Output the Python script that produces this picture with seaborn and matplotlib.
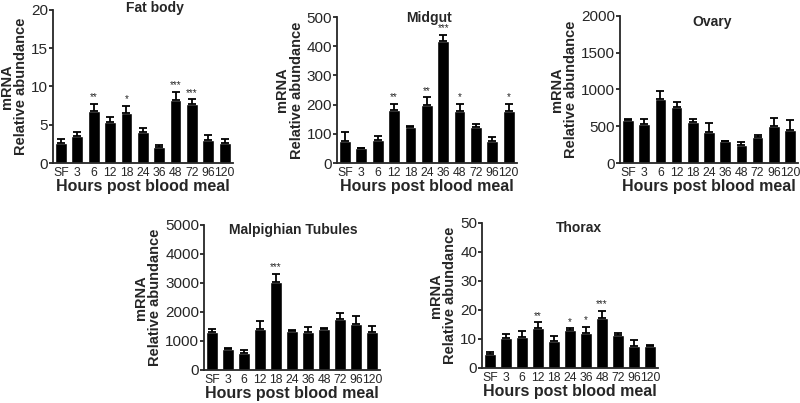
import numpy as np
import pandas as pd
import matplotlib.pyplot as plt
import seaborn as sns

hours = ["SF", "3", "6", "12", "18", "24", "36", "48", "72", "96", "120"]

fat_mean = [2.6, 3.5, 6.8, 5.4, 6.5, 4.0, 2.1, 8.2, 7.7, 3.0, 2.6]
fat_err = [0.6, 0.5, 0.9, 0.6, 0.9, 0.6, 0.2, 1.1, 0.6, 0.7, 0.5]
fat_sig = ["", "", "**", "", "*", "", "", "***", "***", "", ""]

mid_mean = [75, 50, 80, 183, 122, 200, 418, 178, 125, 75, 178]
mid_err = [30, 3, 13, 19, 6, 25, 20, 24, 8, 13, 24]
mid_sig = ["", "", "", "**", "", "**", "***", "*", "", "", "*"]

ova_mean = [580, 535, 870, 760, 555, 415, 295, 245, 355, 505, 450]
ova_err = [20, 60, 110, 70, 45, 130, 5, 40, 30, 105, 130]
ova_sig = [""] * 11

mal_mean = [1300, 720, 600, 1400, 3030, 1350, 1300, 1400, 1760, 1600, 1320]
mal_err = [120, 20, 100, 300, 290, 20, 180, 50, 200, 250, 180]
mal_sig = ["", "", "", "", "***", "", "", "", "", "", ""]

tho_mean = [4.7, 10.3, 10.6, 13.7, 9.4, 13.1, 12.1, 17.3, 11.4, 7.5, 7.6]
tho_err = [0.9, 1.4, 2.3, 2.0, 1.5, 0.5, 2.0, 2.3, 0.8, 2.3, 0.4]
tho_sig = ["", "", "", "**", "", "*", "*", "***", "", "", ""]

sns.set_style("ticks")
plt.rcParams['font.family'] = ['Liberation Sans', 'DejaVu Sans']

fig = plt.figure(figsize=(8, 4.03), dpi=100)

# title, values, errors, stars, y max, tick step, axes rect, title pos
panels = [
    ("Fat body", fat_mean, fat_err, fat_sig, 20, 5,
     [0.066, 0.5955, 0.225, 0.380], (0.57, 1.01)),
    ("Midgut", mid_mean, mid_err, mid_sig, 500, 100,
     [0.421, 0.5955, 0.225, 0.362], (0.51, 0.995)),
    ("Ovary", ova_mean, ova_err, ova_sig, 2000, 500,
     [0.775, 0.5955, 0.2225, 0.365], (0.52, 0.96)),
    ("Malpighian Tubules", mal_mean, mal_err, mal_sig, 5000, 1000,
     [0.255, 0.082, 0.22, 0.360], (0.51, 0.965)),
    ("Thorax", tho_mean, tho_err, tho_sig, 50, 10,
     [0.6025, 0.087, 0.22, 0.360], (0.55, 0.965)),
]

for title, mean, err, sig, ymax, step, rect, tpos in panels:
    ax = fig.add_axes(rect)
    df = pd.DataFrame({"hours": hours, "mean": mean})
    sns.barplot(data=df, x="hours", y="mean", color="black", width=0.72,
                errorbar=None, ax=ax, saturation=1)
    x = np.arange(len(hours))
    ax.errorbar(x, mean, yerr=[np.zeros(len(err)), err], fmt="none",
                ecolor="black", elinewidth=1.3, capsize=3, capthick=1.3)
    for xi, m, e, s in zip(x, mean, err, sig):
        if s:
            ax.text(xi, m + e + ymax * 0.012, s, ha="center", va="bottom",
                    fontsize=7)
    ax.set_xlim(-0.5, 10.5)
    ax.set_ylim(0, ymax)
    ax.set_yticks(np.arange(0, ymax + step, step))
    ax.tick_params(axis="x", length=0, labelsize=8.8, pad=3)
    ax.tick_params(axis="y", length=3, width=1.3, labelsize=11, pad=0.5)
    for side in ["left", "bottom"]:
        ax.spines[side].set_linewidth(1.3)
    sns.despine(ax=ax)
    ax.set_xlabel("Hours post blood meal", fontsize=11.5, fontweight="bold",
                  labelpad=0)
    ax.set_ylabel("mRNA\nRelative abundance", fontsize=10.5,
                  fontweight="bold", labelpad=2, linespacing=1.05)
    ax.text(tpos[0], tpos[1], title, transform=ax.transAxes, ha="center",
            va="center", fontsize=10, fontweight="bold")

fig.savefig("out.png", dpi=100)
